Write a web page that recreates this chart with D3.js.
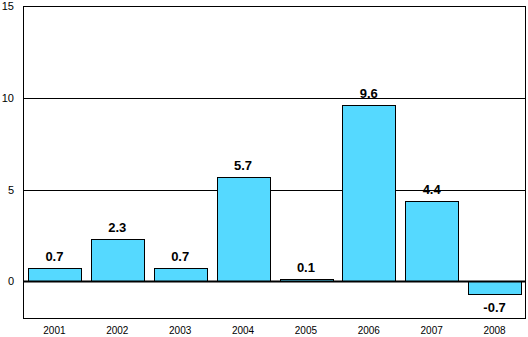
<!DOCTYPE html>
<html>
<head>
<meta charset="utf-8">
<script src="https://cdn.jsdelivr.net/npm/d3@7"></script>
<style>
  body { margin: 0; background: #fff; }
  text { font-family: Arial, "Liberation Sans", sans-serif; }
</style>
</head>
<body>
<script>
// data
var years = ["2001", "2002", "2003", "2004", "2005", "2006", "2007", "2008"];
var values = [0.7, 2.3, 0.7, 5.7, 0.1, 9.6, 4.4, -0.7];
var yTicks = [0, 5, 10, 15];

var W = 528, H = 337;
var margin = {top: 6, right: 2, bottom: 19, left: 23};

var svg = d3.select("body").append("svg")
    .attr("width", W)
    .attr("height", H);

var x = d3.scaleBand()
    .domain(years)
    .range([margin.left, W - margin.right])
    .paddingInner(0.16)
    .paddingOuter(0.08);

var y = d3.scaleLinear()
    .domain([-2, 15])
    .range([H - margin.bottom, margin.top]);

// gridlines
svg.append("g")
  .selectAll("line")
  .data(yTicks.filter(function(d) { return d != 0; }))
  .enter().append("line")
    .attr("x1", margin.left)
    .attr("x2", W - margin.right)
    .attr("y1", function(d) { return Math.round(y(d)) + 0.5; })
    .attr("y2", function(d) { return Math.round(y(d)) + 0.5; })
    .attr("stroke", "#000")
    .attr("stroke-width", 1);

// bars
svg.append("g")
  .selectAll("rect")
  .data(values)
  .enter().append("rect")
    .attr("x", function(d, i) { return Math.round(x(years[i])) + 0.5; })
    .attr("width", Math.round(x.bandwidth()))
    .attr("y", function(d) { return Math.round(y(Math.max(0, d))) + 0.5; })
    .attr("height", function(d) { return Math.abs(Math.round(y(0)) - Math.round(y(d))); })
    .attr("fill", "#55d9ff")
    .attr("stroke", "#000")
    .attr("stroke-width", 1);

// zero line
svg.append("line")
    .attr("x1", margin.left)
    .attr("x2", W - margin.right)
    .attr("y1", Math.round(y(0)) + 0.5)
    .attr("y2", Math.round(y(0)) + 0.5)
    .attr("stroke", "#000")
    .attr("stroke-width", 2);

// plot frame
svg.append("rect")
    .attr("x", margin.left + 0.5)
    .attr("y", margin.top + 0.5)
    .attr("width", W - margin.left - margin.right - 1)
    .attr("height", H - margin.top - margin.bottom)
    .attr("fill", "none")
    .attr("stroke", "#000")
    .attr("stroke-width", 1);

// y tick labels
svg.append("g")
  .selectAll("text")
  .data(yTicks)
  .enter().append("text")
    .attr("x", 14)
    .attr("y", function(d) { return y(d) + 4; })
    .attr("text-anchor", "end")
    .attr("font-size", 11)
    .text(function(d) { return d; });

// x labels
svg.append("g")
  .selectAll("text")
  .data(years)
  .enter().append("text")
    .attr("x", function(d) { return x(d) + x.bandwidth() / 2; })
    .attr("y", H - 3)
    .attr("text-anchor", "middle")
    .attr("font-size", 10)
    .text(function(d) { return d; });

// value labels
svg.append("g")
  .selectAll("text")
  .data(values)
  .enter().append("text")
    .attr("x", function(d, i) { return x(years[i]) + x.bandwidth() / 2; })
    .attr("y", function(d) { return d >= 0 ? y(d) - 7 : y(d) + 18; })
    .attr("text-anchor", "middle")
    .attr("font-size", 13)
    .attr("font-weight", "bold")
    .text(function(d) { return d.toFixed(1); });
</script>
</body>
</html>
